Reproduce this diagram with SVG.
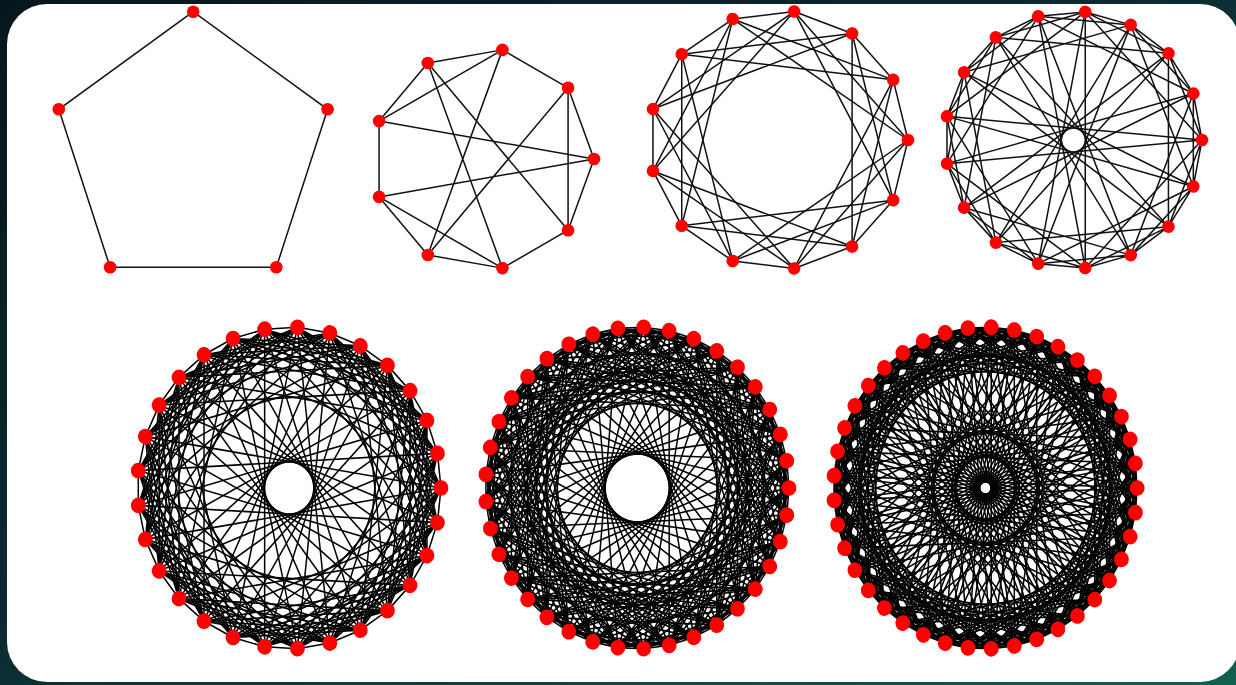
<svg xmlns="http://www.w3.org/2000/svg" width="1236" height="685" viewBox="0 0 1236 685">
<style>
.edges{stroke:#111;stroke-width:1.5;fill:none;stroke-linecap:round}
.edges .dense{stroke:#000;stroke-width:1.5}
.nodes{fill:#ff0000;stroke:none}
</style>
<defs>
<linearGradient id="bg" x1="0" y1="0" x2="1" y2="1">
<stop offset="0" stop-color="#07161c"/>
<stop offset="0.45" stop-color="#0b2a30"/>
<stop offset="1" stop-color="#10604f"/>
</linearGradient>
<circle id="n13" cx="129.4" cy="0" r="6.3"/>
<circle id="n17" cx="128.6" cy="0" r="6.3"/>
<circle id="nb" cx="151.8" cy="0" r="7.4"/>
<path id="s13" d="M129.4 0L114.58 60.13M129.4 0L15.59 128.46M129.4 0L-45.89 120.99"/>
<path id="s17" d="M128.6 0L119.92 46.46M128.6 0L95.04 86.64M128.6 0L11.87 128.05M128.6 0L-126.41 23.63"/>
<path id="s29" d="M151.8 0L148.25 32.63M151.8 0L98.27 115.70M151.8 0L71.11 134.12M151.8 0L40.61 146.27M151.8 0L8.22 151.58M151.8 0L-56.19 141.02M151.8 0L-143.86 48.47"/>
<path id="s37" d="M151.8 0L149.62 25.65M151.8 0L132.52 74.03M151.8 0L118.11 95.36M151.8 0L56.60 140.85M151.8 0L6.44 151.66M151.8 0L-19.28 150.57M151.8 0L-44.45 145.14M151.8 0L-68.34 135.55M151.8 0L-138.32 62.53"/>
<path id="s41" d="M151.8 0L150.02 23.17M151.8 0L144.72 45.80M151.8 0L124.16 87.33M151.8 0L109.38 105.26M151.8 0L51.31 142.87M151.8 0L28.90 149.02M151.8 0L5.81 151.69M151.8 0L-117.11 96.58M151.8 0L-140.79 56.75M151.8 0L-151.36 11.62"/>
</defs>
<rect x="0" y="0" width="1236" height="685" fill="url(#bg)"/>
<rect x="7" y="4" width="1233" height="678" rx="40" ry="40" fill="#ffffff"/>

<g id="connectors" class="edges">
<g id="c1">
<path d="M193.2 11.7L58.8 109.3L110.1 267.3L276.3 267.3L327.6 109.3Z"/>
</g>
<g id="c2">
<path d="M594 159L568.08 87.78M594 159L568.08 230.22M594 159L379.08 121.1M594 159L379.08 196.9M568.08 87.78L502.44 49.88M568.08 87.78L568.08 230.22M568.08 87.78L427.8 254.96M502.44 49.88L427.8 63.04M502.44 49.88L379.08 121.1M502.44 49.88L427.8 254.96M427.8 63.04L379.08 121.1M427.8 63.04L568.08 230.22M427.8 63.04L502.44 268.12M379.08 121.1L379.08 196.9M379.08 196.9L427.8 254.96M379.08 196.9L502.44 268.12M427.8 254.96L502.44 268.12M502.44 268.12L568.08 230.22"/>
</g>
<g id="c3" transform="translate(778.6 140)">
<use href="#s13"/><use href="#s13" transform="rotate(27.692)"/><use href="#s13" transform="rotate(55.385)"/><use href="#s13" transform="rotate(83.077)"/><use href="#s13" transform="rotate(110.769)"/><use href="#s13" transform="rotate(138.462)"/><use href="#s13" transform="rotate(166.154)"/><use href="#s13" transform="rotate(193.846)"/><use href="#s13" transform="rotate(221.538)"/><use href="#s13" transform="rotate(249.231)"/><use href="#s13" transform="rotate(276.923)"/><use href="#s13" transform="rotate(304.615)"/><use href="#s13" transform="rotate(332.308)"/>
</g>
<g id="c4" transform="translate(1073.4 140)">
<use href="#s17"/><use href="#s17" transform="rotate(21.176)"/><use href="#s17" transform="rotate(42.353)"/><use href="#s17" transform="rotate(63.529)"/><use href="#s17" transform="rotate(84.706)"/><use href="#s17" transform="rotate(105.882)"/><use href="#s17" transform="rotate(127.059)"/><use href="#s17" transform="rotate(148.235)"/><use href="#s17" transform="rotate(169.412)"/><use href="#s17" transform="rotate(190.588)"/><use href="#s17" transform="rotate(211.765)"/><use href="#s17" transform="rotate(232.941)"/><use href="#s17" transform="rotate(254.118)"/><use href="#s17" transform="rotate(275.294)"/><use href="#s17" transform="rotate(296.471)"/><use href="#s17" transform="rotate(317.647)"/><use href="#s17" transform="rotate(338.824)"/>
</g>
<g id="c5" class="dense" transform="translate(289.2 488) scale(1 1.06)">
<use href="#s29"/><use href="#s29" transform="rotate(12.414)"/><use href="#s29" transform="rotate(24.828)"/><use href="#s29" transform="rotate(37.241)"/><use href="#s29" transform="rotate(49.655)"/><use href="#s29" transform="rotate(62.069)"/><use href="#s29" transform="rotate(74.483)"/><use href="#s29" transform="rotate(86.897)"/><use href="#s29" transform="rotate(99.310)"/><use href="#s29" transform="rotate(111.724)"/><use href="#s29" transform="rotate(124.138)"/><use href="#s29" transform="rotate(136.552)"/><use href="#s29" transform="rotate(148.966)"/><use href="#s29" transform="rotate(161.379)"/><use href="#s29" transform="rotate(173.793)"/><use href="#s29" transform="rotate(186.207)"/><use href="#s29" transform="rotate(198.621)"/><use href="#s29" transform="rotate(211.034)"/><use href="#s29" transform="rotate(223.448)"/><use href="#s29" transform="rotate(235.862)"/><use href="#s29" transform="rotate(248.276)"/><use href="#s29" transform="rotate(260.690)"/><use href="#s29" transform="rotate(273.103)"/><use href="#s29" transform="rotate(285.517)"/><use href="#s29" transform="rotate(297.931)"/><use href="#s29" transform="rotate(310.345)"/><use href="#s29" transform="rotate(322.759)"/><use href="#s29" transform="rotate(335.172)"/><use href="#s29" transform="rotate(347.586)"/>
</g>
<g id="c6" class="dense" transform="translate(637.2 488) scale(1 1.06)">
<use href="#s37"/><use href="#s37" transform="rotate(9.730)"/><use href="#s37" transform="rotate(19.459)"/><use href="#s37" transform="rotate(29.189)"/><use href="#s37" transform="rotate(38.919)"/><use href="#s37" transform="rotate(48.649)"/><use href="#s37" transform="rotate(58.378)"/><use href="#s37" transform="rotate(68.108)"/><use href="#s37" transform="rotate(77.838)"/><use href="#s37" transform="rotate(87.568)"/><use href="#s37" transform="rotate(97.297)"/><use href="#s37" transform="rotate(107.027)"/><use href="#s37" transform="rotate(116.757)"/><use href="#s37" transform="rotate(126.486)"/><use href="#s37" transform="rotate(136.216)"/><use href="#s37" transform="rotate(145.946)"/><use href="#s37" transform="rotate(155.676)"/><use href="#s37" transform="rotate(165.405)"/><use href="#s37" transform="rotate(175.135)"/><use href="#s37" transform="rotate(184.865)"/><use href="#s37" transform="rotate(194.595)"/><use href="#s37" transform="rotate(204.324)"/><use href="#s37" transform="rotate(214.054)"/><use href="#s37" transform="rotate(223.784)"/><use href="#s37" transform="rotate(233.514)"/><use href="#s37" transform="rotate(243.243)"/><use href="#s37" transform="rotate(252.973)"/><use href="#s37" transform="rotate(262.703)"/><use href="#s37" transform="rotate(272.432)"/><use href="#s37" transform="rotate(282.162)"/><use href="#s37" transform="rotate(291.892)"/><use href="#s37" transform="rotate(301.622)"/><use href="#s37" transform="rotate(311.351)"/><use href="#s37" transform="rotate(321.081)"/><use href="#s37" transform="rotate(330.811)"/><use href="#s37" transform="rotate(340.541)"/><use href="#s37" transform="rotate(350.270)"/>
</g>
<g id="c7" class="dense" transform="translate(985.4 488) scale(1 1.06)">
<use href="#s41"/><use href="#s41" transform="rotate(8.780)"/><use href="#s41" transform="rotate(17.561)"/><use href="#s41" transform="rotate(26.341)"/><use href="#s41" transform="rotate(35.122)"/><use href="#s41" transform="rotate(43.902)"/><use href="#s41" transform="rotate(52.683)"/><use href="#s41" transform="rotate(61.463)"/><use href="#s41" transform="rotate(70.244)"/><use href="#s41" transform="rotate(79.024)"/><use href="#s41" transform="rotate(87.805)"/><use href="#s41" transform="rotate(96.585)"/><use href="#s41" transform="rotate(105.366)"/><use href="#s41" transform="rotate(114.146)"/><use href="#s41" transform="rotate(122.927)"/><use href="#s41" transform="rotate(131.707)"/><use href="#s41" transform="rotate(140.488)"/><use href="#s41" transform="rotate(149.268)"/><use href="#s41" transform="rotate(158.049)"/><use href="#s41" transform="rotate(166.829)"/><use href="#s41" transform="rotate(175.610)"/><use href="#s41" transform="rotate(184.390)"/><use href="#s41" transform="rotate(193.171)"/><use href="#s41" transform="rotate(201.951)"/><use href="#s41" transform="rotate(210.732)"/><use href="#s41" transform="rotate(219.512)"/><use href="#s41" transform="rotate(228.293)"/><use href="#s41" transform="rotate(237.073)"/><use href="#s41" transform="rotate(245.854)"/><use href="#s41" transform="rotate(254.634)"/><use href="#s41" transform="rotate(263.415)"/><use href="#s41" transform="rotate(272.195)"/><use href="#s41" transform="rotate(280.976)"/><use href="#s41" transform="rotate(289.756)"/><use href="#s41" transform="rotate(298.537)"/><use href="#s41" transform="rotate(307.317)"/><use href="#s41" transform="rotate(316.098)"/><use href="#s41" transform="rotate(324.878)"/><use href="#s41" transform="rotate(333.659)"/><use href="#s41" transform="rotate(342.439)"/><use href="#s41" transform="rotate(351.220)"/>
</g>
</g>

<g id="nodes" class="nodes">
<g id="graph1">
<g id="g1-n0"><circle cx="193.2" cy="11.7" r="6.3"/></g>
<g id="g1-n1"><circle cx="58.8" cy="109.3" r="6.3"/></g>
<g id="g1-n2"><circle cx="110.1" cy="267.3" r="6.3"/></g>
<g id="g1-n3"><circle cx="276.3" cy="267.3" r="6.3"/></g>
<g id="g1-n4"><circle cx="327.6" cy="109.3" r="6.3"/></g>
</g>
<g id="graph2">
<g id="g2-n0"><circle cx="594" cy="159" r="6.3"/></g>
<g id="g2-n1"><circle cx="568.08" cy="87.78" r="6.3"/></g>
<g id="g2-n2"><circle cx="502.44" cy="49.88" r="6.3"/></g>
<g id="g2-n3"><circle cx="427.8" cy="63.04" r="6.3"/></g>
<g id="g2-n4"><circle cx="379.08" cy="121.1" r="6.3"/></g>
<g id="g2-n5"><circle cx="379.08" cy="196.9" r="6.3"/></g>
<g id="g2-n6"><circle cx="427.8" cy="254.96" r="6.3"/></g>
<g id="g2-n7"><circle cx="502.44" cy="268.12" r="6.3"/></g>
<g id="g2-n8"><circle cx="568.08" cy="230.22" r="6.3"/></g>
</g>
<g id="graph3" transform="translate(778.6 140)">
<g id="g3-n0"><use href="#n13"/></g><g id="g3-n1"><use href="#n13" transform="rotate(27.692)"/></g><g id="g3-n2"><use href="#n13" transform="rotate(55.385)"/></g><g id="g3-n3"><use href="#n13" transform="rotate(83.077)"/></g><g id="g3-n4"><use href="#n13" transform="rotate(110.769)"/></g><g id="g3-n5"><use href="#n13" transform="rotate(138.462)"/></g><g id="g3-n6"><use href="#n13" transform="rotate(166.154)"/></g><g id="g3-n7"><use href="#n13" transform="rotate(193.846)"/></g><g id="g3-n8"><use href="#n13" transform="rotate(221.538)"/></g><g id="g3-n9"><use href="#n13" transform="rotate(249.231)"/></g><g id="g3-n10"><use href="#n13" transform="rotate(276.923)"/></g><g id="g3-n11"><use href="#n13" transform="rotate(304.615)"/></g><g id="g3-n12"><use href="#n13" transform="rotate(332.308)"/></g>
</g>
<g id="graph4" transform="translate(1073.4 140)">
<g id="g4-n0"><use href="#n17"/></g><g id="g4-n1"><use href="#n17" transform="rotate(21.176)"/></g><g id="g4-n2"><use href="#n17" transform="rotate(42.353)"/></g><g id="g4-n3"><use href="#n17" transform="rotate(63.529)"/></g><g id="g4-n4"><use href="#n17" transform="rotate(84.706)"/></g><g id="g4-n5"><use href="#n17" transform="rotate(105.882)"/></g><g id="g4-n6"><use href="#n17" transform="rotate(127.059)"/></g><g id="g4-n7"><use href="#n17" transform="rotate(148.235)"/></g><g id="g4-n8"><use href="#n17" transform="rotate(169.412)"/></g><g id="g4-n9"><use href="#n17" transform="rotate(190.588)"/></g><g id="g4-n10"><use href="#n17" transform="rotate(211.765)"/></g><g id="g4-n11"><use href="#n17" transform="rotate(232.941)"/></g><g id="g4-n12"><use href="#n17" transform="rotate(254.118)"/></g><g id="g4-n13"><use href="#n17" transform="rotate(275.294)"/></g><g id="g4-n14"><use href="#n17" transform="rotate(296.471)"/></g><g id="g4-n15"><use href="#n17" transform="rotate(317.647)"/></g><g id="g4-n16"><use href="#n17" transform="rotate(338.824)"/></g>
</g>
<g id="graph5" transform="translate(289.2 488) scale(1 1.06)">
<g id="g5-n0"><use href="#nb"/></g><g id="g5-n1"><use href="#nb" transform="rotate(12.414)"/></g><g id="g5-n2"><use href="#nb" transform="rotate(24.828)"/></g><g id="g5-n3"><use href="#nb" transform="rotate(37.241)"/></g><g id="g5-n4"><use href="#nb" transform="rotate(49.655)"/></g><g id="g5-n5"><use href="#nb" transform="rotate(62.069)"/></g><g id="g5-n6"><use href="#nb" transform="rotate(74.483)"/></g><g id="g5-n7"><use href="#nb" transform="rotate(86.897)"/></g><g id="g5-n8"><use href="#nb" transform="rotate(99.310)"/></g><g id="g5-n9"><use href="#nb" transform="rotate(111.724)"/></g><g id="g5-n10"><use href="#nb" transform="rotate(124.138)"/></g><g id="g5-n11"><use href="#nb" transform="rotate(136.552)"/></g><g id="g5-n12"><use href="#nb" transform="rotate(148.966)"/></g><g id="g5-n13"><use href="#nb" transform="rotate(161.379)"/></g><g id="g5-n14"><use href="#nb" transform="rotate(173.793)"/></g><g id="g5-n15"><use href="#nb" transform="rotate(186.207)"/></g><g id="g5-n16"><use href="#nb" transform="rotate(198.621)"/></g><g id="g5-n17"><use href="#nb" transform="rotate(211.034)"/></g><g id="g5-n18"><use href="#nb" transform="rotate(223.448)"/></g><g id="g5-n19"><use href="#nb" transform="rotate(235.862)"/></g><g id="g5-n20"><use href="#nb" transform="rotate(248.276)"/></g><g id="g5-n21"><use href="#nb" transform="rotate(260.690)"/></g><g id="g5-n22"><use href="#nb" transform="rotate(273.103)"/></g><g id="g5-n23"><use href="#nb" transform="rotate(285.517)"/></g><g id="g5-n24"><use href="#nb" transform="rotate(297.931)"/></g><g id="g5-n25"><use href="#nb" transform="rotate(310.345)"/></g><g id="g5-n26"><use href="#nb" transform="rotate(322.759)"/></g><g id="g5-n27"><use href="#nb" transform="rotate(335.172)"/></g><g id="g5-n28"><use href="#nb" transform="rotate(347.586)"/></g>
</g>
<g id="graph6" transform="translate(637.2 488) scale(1 1.06)">
<g id="g6-n0"><use href="#nb"/></g><g id="g6-n1"><use href="#nb" transform="rotate(9.730)"/></g><g id="g6-n2"><use href="#nb" transform="rotate(19.459)"/></g><g id="g6-n3"><use href="#nb" transform="rotate(29.189)"/></g><g id="g6-n4"><use href="#nb" transform="rotate(38.919)"/></g><g id="g6-n5"><use href="#nb" transform="rotate(48.649)"/></g><g id="g6-n6"><use href="#nb" transform="rotate(58.378)"/></g><g id="g6-n7"><use href="#nb" transform="rotate(68.108)"/></g><g id="g6-n8"><use href="#nb" transform="rotate(77.838)"/></g><g id="g6-n9"><use href="#nb" transform="rotate(87.568)"/></g><g id="g6-n10"><use href="#nb" transform="rotate(97.297)"/></g><g id="g6-n11"><use href="#nb" transform="rotate(107.027)"/></g><g id="g6-n12"><use href="#nb" transform="rotate(116.757)"/></g><g id="g6-n13"><use href="#nb" transform="rotate(126.486)"/></g><g id="g6-n14"><use href="#nb" transform="rotate(136.216)"/></g><g id="g6-n15"><use href="#nb" transform="rotate(145.946)"/></g><g id="g6-n16"><use href="#nb" transform="rotate(155.676)"/></g><g id="g6-n17"><use href="#nb" transform="rotate(165.405)"/></g><g id="g6-n18"><use href="#nb" transform="rotate(175.135)"/></g><g id="g6-n19"><use href="#nb" transform="rotate(184.865)"/></g><g id="g6-n20"><use href="#nb" transform="rotate(194.595)"/></g><g id="g6-n21"><use href="#nb" transform="rotate(204.324)"/></g><g id="g6-n22"><use href="#nb" transform="rotate(214.054)"/></g><g id="g6-n23"><use href="#nb" transform="rotate(223.784)"/></g><g id="g6-n24"><use href="#nb" transform="rotate(233.514)"/></g><g id="g6-n25"><use href="#nb" transform="rotate(243.243)"/></g><g id="g6-n26"><use href="#nb" transform="rotate(252.973)"/></g><g id="g6-n27"><use href="#nb" transform="rotate(262.703)"/></g><g id="g6-n28"><use href="#nb" transform="rotate(272.432)"/></g><g id="g6-n29"><use href="#nb" transform="rotate(282.162)"/></g><g id="g6-n30"><use href="#nb" transform="rotate(291.892)"/></g><g id="g6-n31"><use href="#nb" transform="rotate(301.622)"/></g><g id="g6-n32"><use href="#nb" transform="rotate(311.351)"/></g><g id="g6-n33"><use href="#nb" transform="rotate(321.081)"/></g><g id="g6-n34"><use href="#nb" transform="rotate(330.811)"/></g><g id="g6-n35"><use href="#nb" transform="rotate(340.541)"/></g><g id="g6-n36"><use href="#nb" transform="rotate(350.270)"/></g>
</g>
<g id="graph7" transform="translate(985.4 488) scale(1 1.06)">
<g id="g7-n0"><use href="#nb"/></g><g id="g7-n1"><use href="#nb" transform="rotate(8.780)"/></g><g id="g7-n2"><use href="#nb" transform="rotate(17.561)"/></g><g id="g7-n3"><use href="#nb" transform="rotate(26.341)"/></g><g id="g7-n4"><use href="#nb" transform="rotate(35.122)"/></g><g id="g7-n5"><use href="#nb" transform="rotate(43.902)"/></g><g id="g7-n6"><use href="#nb" transform="rotate(52.683)"/></g><g id="g7-n7"><use href="#nb" transform="rotate(61.463)"/></g><g id="g7-n8"><use href="#nb" transform="rotate(70.244)"/></g><g id="g7-n9"><use href="#nb" transform="rotate(79.024)"/></g><g id="g7-n10"><use href="#nb" transform="rotate(87.805)"/></g><g id="g7-n11"><use href="#nb" transform="rotate(96.585)"/></g><g id="g7-n12"><use href="#nb" transform="rotate(105.366)"/></g><g id="g7-n13"><use href="#nb" transform="rotate(114.146)"/></g><g id="g7-n14"><use href="#nb" transform="rotate(122.927)"/></g><g id="g7-n15"><use href="#nb" transform="rotate(131.707)"/></g><g id="g7-n16"><use href="#nb" transform="rotate(140.488)"/></g><g id="g7-n17"><use href="#nb" transform="rotate(149.268)"/></g><g id="g7-n18"><use href="#nb" transform="rotate(158.049)"/></g><g id="g7-n19"><use href="#nb" transform="rotate(166.829)"/></g><g id="g7-n20"><use href="#nb" transform="rotate(175.610)"/></g><g id="g7-n21"><use href="#nb" transform="rotate(184.390)"/></g><g id="g7-n22"><use href="#nb" transform="rotate(193.171)"/></g><g id="g7-n23"><use href="#nb" transform="rotate(201.951)"/></g><g id="g7-n24"><use href="#nb" transform="rotate(210.732)"/></g><g id="g7-n25"><use href="#nb" transform="rotate(219.512)"/></g><g id="g7-n26"><use href="#nb" transform="rotate(228.293)"/></g><g id="g7-n27"><use href="#nb" transform="rotate(237.073)"/></g><g id="g7-n28"><use href="#nb" transform="rotate(245.854)"/></g><g id="g7-n29"><use href="#nb" transform="rotate(254.634)"/></g><g id="g7-n30"><use href="#nb" transform="rotate(263.415)"/></g><g id="g7-n31"><use href="#nb" transform="rotate(272.195)"/></g><g id="g7-n32"><use href="#nb" transform="rotate(280.976)"/></g><g id="g7-n33"><use href="#nb" transform="rotate(289.756)"/></g><g id="g7-n34"><use href="#nb" transform="rotate(298.537)"/></g><g id="g7-n35"><use href="#nb" transform="rotate(307.317)"/></g><g id="g7-n36"><use href="#nb" transform="rotate(316.098)"/></g><g id="g7-n37"><use href="#nb" transform="rotate(324.878)"/></g><g id="g7-n38"><use href="#nb" transform="rotate(333.659)"/></g><g id="g7-n39"><use href="#nb" transform="rotate(342.439)"/></g><g id="g7-n40"><use href="#nb" transform="rotate(351.220)"/></g>
</g>
</g>
</svg>
